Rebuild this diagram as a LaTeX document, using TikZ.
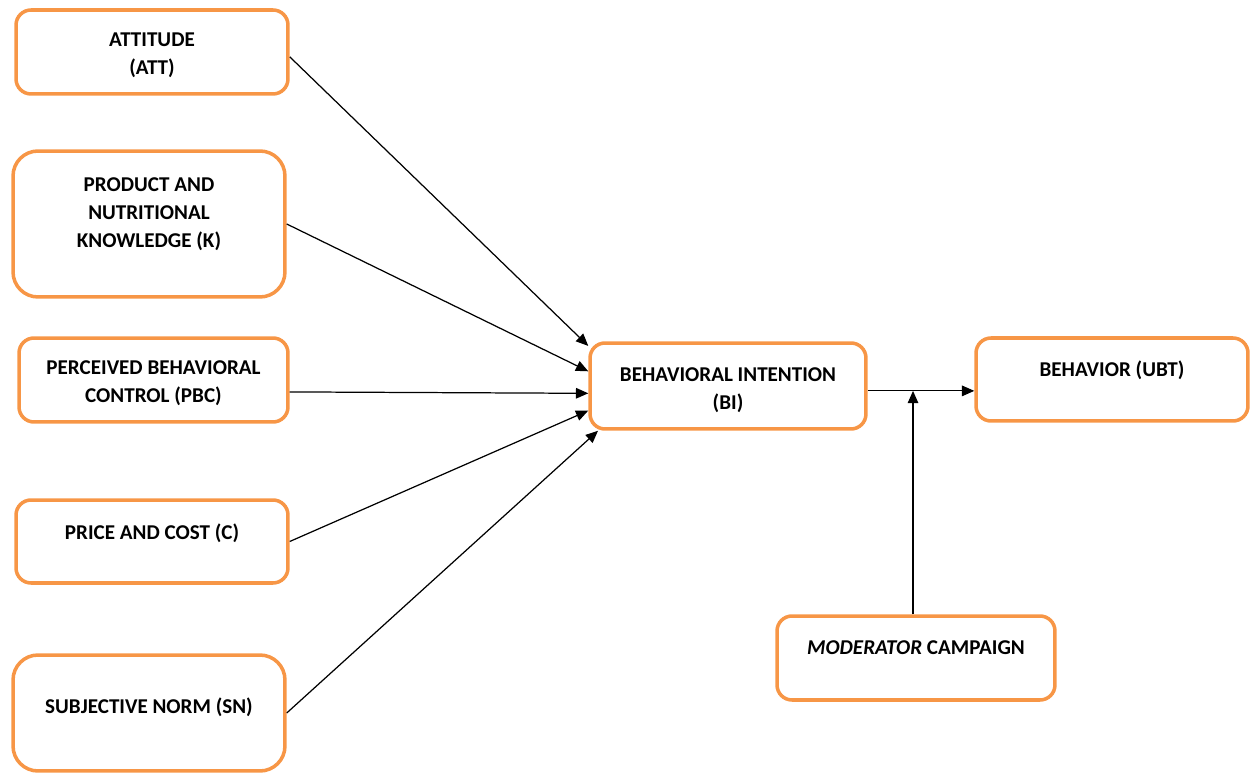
\documentclass[tikz,border=0pt]{standalone}
\usepackage{fontspec}
\setmainfont{Carlito}
\usepackage{tikz}
\usetikzlibrary{arrows.meta}
\definecolor{boxorange}{HTML}{F79646}

\begin{document}
\begin{tikzpicture}[x=0.02cm, y=-0.02cm,
  roundbox/.style={rectangle, rounded corners=0.3cm, draw=boxorange, line width=2pt, fill=white},
  boxtext/.style={anchor=north, inner sep=0pt, align=center, font=\fontsize{12}{16}\selectfont\bfseries},
  link/.style={-{Triangle[length=7pt,width=6pt]}, line width=0.7pt}]
\useasboundingbox (0,0) rectangle (1251,773);
% predictors
\node[roundbox, minimum width=5.44cm, minimum height=1.68cm] at (152,52) (att) {};
\node[boxtext] at ([yshift=-0.48cm]att.north) (attT) {ATTITUDE\\(ATT)};
\node[roundbox, rounded corners=0.5cm, minimum width=5.44cm, minimum height=2.92cm] at (149,224) (k) {};
\node[boxtext] at ([yshift=-0.56cm]k.north) (kT) {PRODUCT AND\\NUTRITIONAL\\KNOWLEDGE (K)};
\node[roundbox, minimum width=5.38cm, minimum height=1.68cm] at (153.5,380) (pbc) {};
\node[boxtext] at ([yshift=-0.48cm]pbc.north) (pbcT) {PERCEIVED BEHAVIORAL\\CONTROL (PBC)};
\node[roundbox, minimum width=5.44cm, minimum height=1.66cm] at (152,541.5) (c) {};
\node[boxtext] at ([yshift=-0.5cm]c.north) (cT) {PRICE AND COST (C)};
\node[roundbox, rounded corners=0.5cm, minimum width=5.44cm, minimum height=2.32cm] at (149,713) (sn) {};
\node[boxtext] at ([yshift=-0.88cm]sn.north) (snT) {SUBJECTIVE NORM (SN)};
% intention, behavior, moderator
\node[roundbox, minimum width=5.52cm, minimum height=1.72cm] at (728,386) (bi) {};
\node[boxtext] at ([yshift=-0.52cm]bi.north) (biT) {BEHAVIORAL INTENTION\\(BI)};
\node[roundbox, minimum width=5.44cm, minimum height=1.66cm] at (1112,379.5) (ubt) {};
\node[boxtext] at ([yshift=-0.48cm]ubt.north) (ubtT) {BEHAVIOR (UBT)};
\node[roundbox, minimum width=5.56cm, minimum height=1.68cm] at (916,658) (mod) {};
\node[boxtext] at ([yshift=-0.52cm]mod.north) (modT) {\textit{MODERATOR} CAMPAIGN};
% paths
\draw[link] (att.358) -- (bi.164);
\draw[link] (k.east) -- (bi.174.5);
\draw[link] (pbc.355) -- (bi.183);
\draw[link] (c.east) -- (bi.190);
\draw[link] (sn.east) -- (bi.199);
\draw[link] (bi.358) -- (bi.358 -| ubt.west);
\draw[link] ([xshift=-0.06cm]mod.north) -- ([xshift=-0.06cm]mod.north |- bi.358);
\end{tikzpicture}
\end{document}
